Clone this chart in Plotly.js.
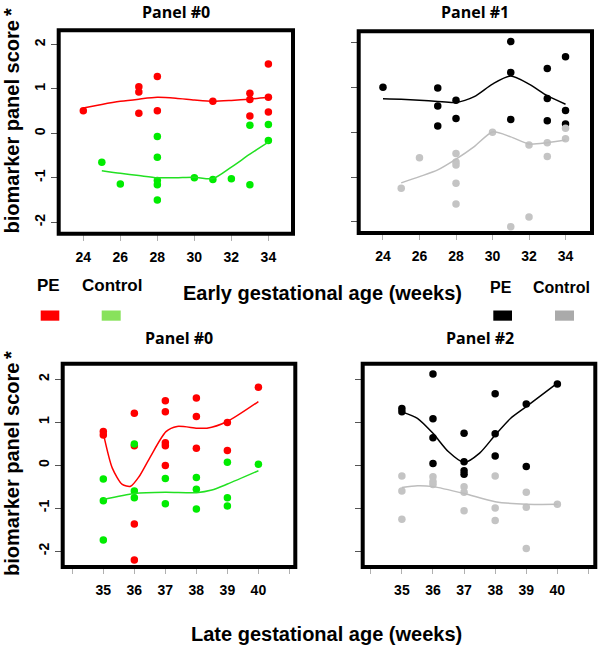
<!DOCTYPE html>
<html>
<head>
<meta charset="utf-8">
<script src="https://cdn.plot.ly/plotly-3.0.1.min.js"></script>
<style>html,body{margin:0;padding:0;background:#fff;}#chart{width:600px;height:647px;}</style>
</head>
<body>
<div id="chart"></div>
<script>
// ---------- tick labels ----------
const earlyTicks = [24, 26, 28, 30, 32, 34];
const lateTicks = [35, 36, 37, 38, 39, 40];
const yTicks = [-2, -1, 0, 1, 2];
const yTickText = ['-2', '-1', '0', '1', '2'];

// ---------- Panel #0 (early) ----------
const e0PeX = [24, 27, 27, 27, 28, 28, 31, 33, 33, 33, 34, 34, 34];
const e0PeY = [0.51, 1.05, 0.93, 0.45, 1.28, 0.51, 0.72, 0.90, 0.76, 0.39, 1.56, 0.81, 0.48];
const e0PeFitX = [24, 25, 26, 27, 28, 29, 30, 31, 32, 33, 34];
const e0PeFitY = [0.57, 0.65, 0.72, 0.77, 0.81, 0.79, 0.75, 0.72, 0.74, 0.77, 0.81];
const e0CtlX = [25, 26, 28, 28, 28, 28, 28, 30, 31, 32, 33, 33, 34, 34];
const e0CtlY = [-0.65, -1.14, -0.07, -0.54, -1.06, -1.16, -1.50, -1.00, -1.04, -1.02, 0.18, -1.16, 0.20, -0.16];
const e0CtlFitX = [25, 26, 27, 28, 29, 30, 31, 32, 33, 34];
const e0CtlFitY = [-0.84, -0.90, -0.95, -1.00, -1.00, -0.99, -1.02, -0.76, -0.47, -0.20];

// ---------- Panel #1 (early) ----------
const e1PeX = [24, 27, 27, 27, 28, 28, 31, 31, 31, 33, 33, 33, 34, 34, 34];
const e1PeY = [1.01, 0.99, 0.59, 0.14, 0.72, 0.31, 2.03, 1.34, 0.29, 1.43, 0.76, 0.26, 1.69, 0.49, 0.19];
const e1PeFitX = [24, 25, 26, 27, 28, 29, 30, 31, 32, 33, 34];
const e1PeFitY = [0.75, 0.74, 0.72, 0.69, 0.67, 0.80, 1.08, 1.26, 1.08, 0.82, 0.63];
const e1CtlX = [25, 26, 28, 28, 28, 28, 28, 30, 31, 32, 32, 33, 33, 34, 34];
const e1CtlY = [-1.25, -0.57, -0.47, -0.66, -0.73, -1.14, -1.60, 0.00, -2.11, -0.28, -1.89, -0.23, -0.54, 0.09, -0.14];
const e1CtlFitX = [25, 26, 27, 28, 29, 30, 31, 32, 33, 34];
const e1CtlFitY = [-1.13, -0.99, -0.84, -0.60, -0.32, 0.01, -0.10, -0.26, -0.23, -0.17];

// ---------- Panel #0 (late) ----------
const l0PeX = [35, 35, 36, 36, 36, 36, 37, 37, 37, 37, 37, 38, 38, 38, 39, 39, 40];
const l0PeY = [0.78, 0.70, 1.21, 0.45, -1.37, -2.21, 1.50, 1.24, 0.52, 0.45, -0.01, 1.56, 1.13, 0.39, 0.99, 0.34, 1.81];
const l0PeFitX = [35, 35.29, 35.61, 35.88, 36.15, 36.52, 37.02, 37.38, 38.02, 38.34, 38.98, 40];
const l0PeFitY = [0.74, -0.07, -0.45, -0.49, -0.27, 0.20, 0.78, 0.90, 0.86, 0.86, 1.01, 1.48];
const l0CtlX = [35, 35, 35, 36, 36, 36, 37, 37, 38, 38, 38, 39, 39, 39, 40];
const l0CtlY = [-0.32, -0.83, -1.74, 0.49, -0.60, -0.76, -0.31, -0.90, -0.29, -0.56, -1.02, 0.07, -0.76, -0.95, 0.02];
const l0CtlFitX = [35, 36, 37, 38, 38.5, 39, 40];
const l0CtlFitY = [-0.80, -0.66, -0.63, -0.64, -0.58, -0.44, -0.13];

// ---------- Panel #2 (late) ----------
const l2PeX = [35, 35, 36, 36, 36, 36, 37, 37, 37, 37, 38, 38, 38, 39, 39, 40];
const l2PeY = [1.32, 1.24, 2.12, 1.08, 0.64, 0.04, 0.74, 0.08, -0.13, -0.21, 1.66, 0.73, 0.21, 1.42, -0.03, 1.89];
const l2PeFitX = [35, 35.5, 36, 36.5, 37, 37.5, 38, 38.5, 39, 40];
const l2PeFitY = [1.24, 1.09, 0.74, 0.31, 0.06, 0.28, 0.70, 1.09, 1.36, 1.91];
const l2CtlX = [35, 35, 35, 36, 36, 36, 37, 37, 37, 38, 38, 38, 39, 39, 39, 40];
const l2CtlY = [-0.25, -0.60, -1.26, -0.27, -0.38, -0.45, -0.50, -0.63, -1.06, -0.25, -1.00, -1.29, -0.63, -0.98, -1.94, -0.91];
const l2CtlFitX = [35, 35.5, 36, 37, 38, 39, 40];
const l2CtlFitY = [-0.52, -0.48, -0.50, -0.66, -0.85, -0.91, -0.91];

// ---------- styles ----------
const RED = '#ff0000', GREEN = '#00ec00', GREEN_LINE = '#22e022';
const BLACK = '#000000', GRAY = '#c4c4c4', GRAY_LINE = '#bdbdbd';
const W = 600, H = 647;
const px = v => v / W;
const py = v => 1 - v / H;

function pts(x, y, color, ax) {
  return {x: x, y: y, xaxis: 'x' + ax, yaxis: 'y' + ax, type: 'scatter', mode: 'markers',
    marker: {color: color, size: 7.5, line: {width: 0}}, hoverinfo: 'skip', showlegend: false};
}
function fit(x, y, color, ax) {
  return {x: x, y: y, xaxis: 'x' + ax, yaxis: 'y' + ax, type: 'scatter', mode: 'lines',
    line: {color: color, width: 1.5, shape: 'spline', smoothing: 0.7}, hoverinfo: 'skip', showlegend: false};
}

const data = [
  pts(e0PeX, e0PeY, RED, ''), pts(e0CtlX, e0CtlY, GREEN, ''),
  fit(e0PeFitX, e0PeFitY, RED, ''), fit(e0CtlFitX, e0CtlFitY, GREEN_LINE, ''),
  pts(e1PeX, e1PeY, BLACK, 2), pts(e1CtlX, e1CtlY, GRAY, 2),
  fit(e1PeFitX, e1PeFitY, BLACK, 2), fit(e1CtlFitX, e1CtlFitY, GRAY_LINE, 2),
  pts(l0PeX, l0PeY, RED, 3), pts(l0CtlX, l0CtlY, GREEN, 3),
  fit(l0PeFitX, l0PeFitY, RED, 3), fit(l0CtlFitX, l0CtlFitY, GREEN_LINE, 3),
  pts(l2PeX, l2PeY, BLACK, 4), pts(l2CtlX, l2CtlY, GRAY, 4),
  fit(l2PeFitX, l2PeFitY, BLACK, 4), fit(l2CtlFitX, l2CtlFitY, GRAY_LINE, 4)
];

const tickFont = {family: 'Liberation Sans, Arial, sans-serif', size: 14, color: '#000', weight: 'bold'};
function xax(domain, range, tickvals, anchor, withMinor) {
  const a = {domain: domain, range: range, anchor: anchor, tickmode: 'array', tickvals: tickvals,
    ticktext: tickvals.map(String), ticks: 'outside', ticklen: 6, tickcolor: '#b0b0b0', tickwidth: 1,
    showgrid: false, zeroline: false, showline: false, tickfont: tickFont, ticklabelstandoff: 4, fixedrange: true};
  if (withMinor) {
    a.minor = {ticks: 'outside', ticklen: 6, tickcolor: '#b0b0b0', tickwidth: 1, tick0: 0, dtick: 1, showgrid: false};
  }
  return a;
}
function yax(domain, range, showLabels, anchor) {
  return {domain: domain, range: range, anchor: anchor, tickmode: 'array', tickvals: yTicks,
    ticktext: yTickText, showticklabels: showLabels, ticks: 'outside', ticklen: 7,
    tickcolor: '#555', tickwidth: 1, tickangle: -90, showgrid: false, zeroline: false,
    showline: false, tickfont: tickFont, fixedrange: true};
}

const dTL = {x: [px(58.7), px(293)], y: [py(233.7), py(30.3)]};
const dTR = {x: [px(358.7), px(592)], y: [py(233), py(31.3)]};
const dBL = {x: [px(62.7), px(295.3)], y: [py(567), py(363.7)]};
const dBR = {x: [px(362.7), px(595.3)], y: [py(567), py(363.7)]};

function frame(ax) {
  return {type: 'rect', xref: 'x' + ax + ' domain', yref: 'y' + ax + ' domain', x0: 0, x1: 1, y0: 0, y1: 1,
    line: {color: '#000', width: 4}, fillcolor: 'rgba(0,0,0,0)', layer: 'above'};
}
function swatch(x0, x1, color) {
  return {type: 'rect', xref: 'paper', yref: 'paper', x0: px(x0), x1: px(x1), y0: py(320.7), y1: py(310.5),
    line: {width: 0}, fillcolor: color};
}
const boldArial = (s) => ({family: 'Liberation Sans, Arial, sans-serif', size: s, color: '#000', weight: 'bold'});
const boldTitle = {family: 'Open Sans, sans-serif', size: 16, color: '#000', weight: 'bold'};
function txt(text, x, y, font, angle) {
  return {text: text, x: px(x), y: py(y), xref: 'paper', yref: 'paper', showarrow: false,
    xanchor: 'center', yanchor: 'middle', font: font, textangle: angle || 0};
}

const layout = {
  width: W, height: H, margin: {l: 0, r: 0, t: 0, b: 0},
  paper_bgcolor: '#fff', plot_bgcolor: '#fff', showlegend: false,
  xaxis: xax(dTL.x, [22.67, 35.33], earlyTicks, 'y', false),
  yaxis: yax(dTL.y, [-2.26, 2.32], true, 'x'),
  xaxis2: xax(dTR.x, [22.67, 35.45], earlyTicks, 'y2', false),
  yaxis2: yax(dTR.y, [-2.25, 2.26], false, 'x2'),
  xaxis3: xax(dBL.x, [33.69, 41.19], lateTicks, 'y3', true),
  yaxis3: yax(dBL.y, [-2.37, 2.36], true, 'x3'),
  xaxis4: xax(dBR.x, [33.74, 41.22], lateTicks, 'y4', true),
  yaxis4: yax(dBR.y, [-2.37, 2.36], false, 'x4'),
  shapes: [frame(''), frame(2), frame(3), frame(4),
    swatch(40.7, 59.3, '#ff0000'), swatch(101.7, 120.7, '#88e25c'),
    swatch(493.3, 512, '#000000'), swatch(555, 574, '#aaaaaa')],
  annotations: [
    txt('Panel #0', 176, 12, boldTitle),
    txt('Panel #1', 475, 12, boldTitle),
    txt('Panel #0', 179, 338, boldTitle),
    txt('Panel #2', 480, 338, boldTitle),
    txt('biomarker panel score', 12, 127.5, boldArial(20), -90),
    txt('*', 11, 12, boldArial(20), -90),
    txt('biomarker panel score', 12, 470, boldArial(20), -90),
    txt('*', 11, 355, boldArial(20), -90),
    txt('Early gestational age (weeks)', 322, 293, boldArial(20)),
    txt('Late gestational age (weeks)', 326, 634, boldArial(20)),
    txt('PE', 48.5, 286, boldArial(17)),
    txt('Control', 112, 286, boldArial(17)),
    txt('PE', 501, 287, boldArial(16)),
    txt('Control', 561.5, 287, boldArial(16))
  ]
};

Plotly.newPlot('chart', data, layout, {staticPlot: true, displayModeBar: false});
</script>
</body>
</html>
